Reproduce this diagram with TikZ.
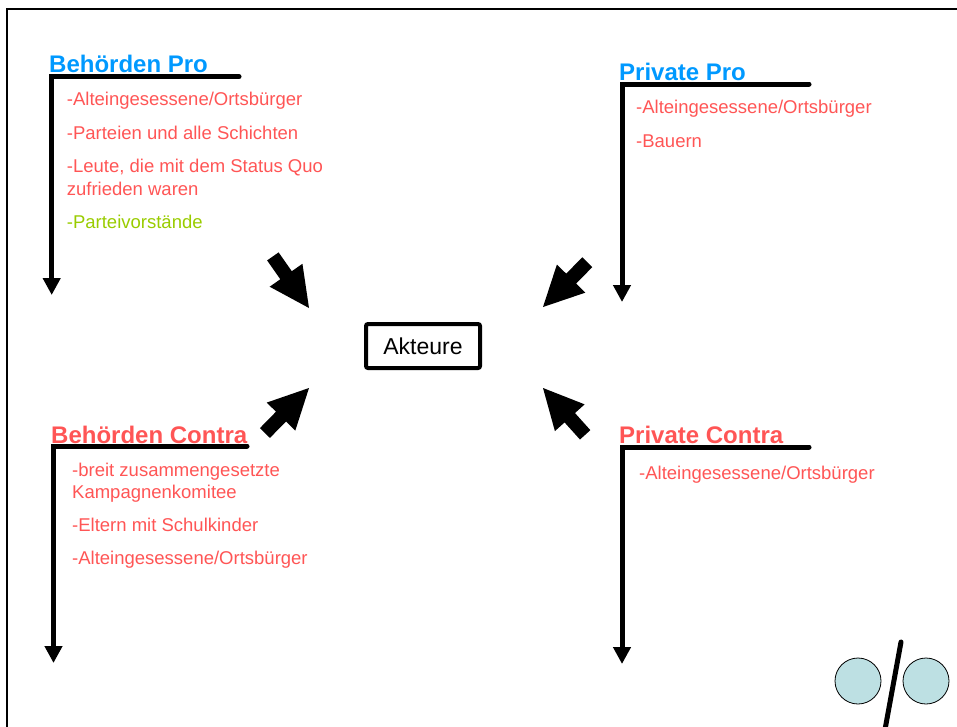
\documentclass[tikz,border=0pt]{standalone}
\usepackage{fontspec}
\setmainfont{Liberation Sans}
\usetikzlibrary{arrows.meta}
\definecolor{headblue}{RGB}{0,153,255}
\definecolor{itemred}{RGB}{255,85,85}
\definecolor{itemgreen}{RGB}{153,204,0}
\definecolor{ballblue}{RGB}{189,224,227}
\tikzset{
  head/.style={anchor=base west, inner sep=0pt, font=\fontsize{24}{28}\selectfont\bfseries},
  item/.style={anchor=base west, inner sep=0pt, text=itemred, font=\fontsize{18.5}{22}\selectfont},
  bracket/.style={line width=5pt, line cap=round, -{Triangle[width=17pt,length=17pt]}},
  blockarrow/.pic={\fill (0,0) -- (-40,20) -- (-40,7) -- (-63,7) -- (-63,-7) -- (-40,-7) -- (-40,-20) -- cycle;},
  ball/.style={circle, draw, line width=0.8pt, fill=ballblue, minimum size=46pt, inner sep=0pt}
}
\begin{document}
\begin{tikzpicture}[x=1pt,y=-1pt]
\useasboundingbox (0,0) rectangle (957,726);
% frame
\draw[line width=2pt] (7,740) -- (7,9.3) -- (970,9.3);

% Behörden Pro
\node[head,text=headblue] (bpH) at (49,72.7) {Behörden Pro};
\coordinate (bpR) at (239,76.7);
\coordinate (bpC) at (51.7,76.7);
\coordinate (bpT) at (51.7,295);
\draw[bracket] (bpR) -- (bpC) -- (bpT);
\node[item] (bp1) at (66.7,105) {-Alteingesessene/Ortsbürger};
\node[item] (bp2) at (66.7,139) {-Parteien und alle Schichten};
\node[item] (bp3) at (66.7,172) {-Leute, die mit dem Status Quo};
\node[item] (bp4) at (66.7,195) {zufrieden waren};
\node[item,text=itemgreen] (bp5) at (66.7,228) {-Parteivorstände};

% Private Pro
\node[head,text=headblue] (ppH) at (619,80.5) {Private Pro};
\coordinate (ppR) at (809,84);
\coordinate (ppC) at (622,84);
\coordinate (ppT) at (622,302);
\draw[bracket] (ppR) -- (ppC) -- (ppT);
\node[item] (pp1) at (636,113) {-Alteingesessene/Ortsbürger};
\node[item] (pp2) at (636,147) {-Bauern};

% Behörden Contra
\node[head,text=itemred] (bcH) at (51,443) {Behörden Contra};
\coordinate (bcR) at (247,446);
\coordinate (bcC) at (53.5,446);
\coordinate (bcT) at (53.5,663);
\draw[bracket] (bcR) -- (bcC) -- (bcT);
\node[item] (bc1) at (72,476) {-breit zusammengesetzte};
\node[item] (bc2) at (72,498) {Kampagnenkomitee};
\node[item] (bc3) at (72,531.5) {-Eltern mit Schulkinder};
\node[item] (bc4) at (72,564.5) {-Alteingesessene/Ortsbürger};

% Private Contra
\node[head,text=itemred] (pcH) at (619,443) {Private Contra};
\coordinate (pcR) at (809,447);
\coordinate (pcC) at (622,447);
\coordinate (pcT) at (622,664);
\draw[bracket] (pcR) -- (pcC) -- (pcT);
\node[item] (pc1) at (639,479) {-Alteingesessene/Ortsbürger};

% centre
\node[draw, line width=4pt, rounded corners=2pt, minimum width=114pt, minimum height=44pt, inner sep=0pt,
      font=\fontsize{23}{27}\selectfont] (akt) at (423,346) {Akteure};

% block arrows
\pic[rotate=-55] at (309,308) {blockarrow};
\pic[rotate=-134.7] at (543,307) {blockarrow};
\pic[rotate=45.6] at (309,388) {blockarrow};
\pic[rotate=132] at (543,388) {blockarrow};

% logo
\node[ball] (b1) at (858,681) {};
\node[ball] (b2) at (926,681) {};
\coordinate (s1) at (901,642);
\coordinate (s2) at (884,735);
\draw[line width=5pt, line cap=round] (s1) -- (s2);
\end{tikzpicture}
\end{document}
